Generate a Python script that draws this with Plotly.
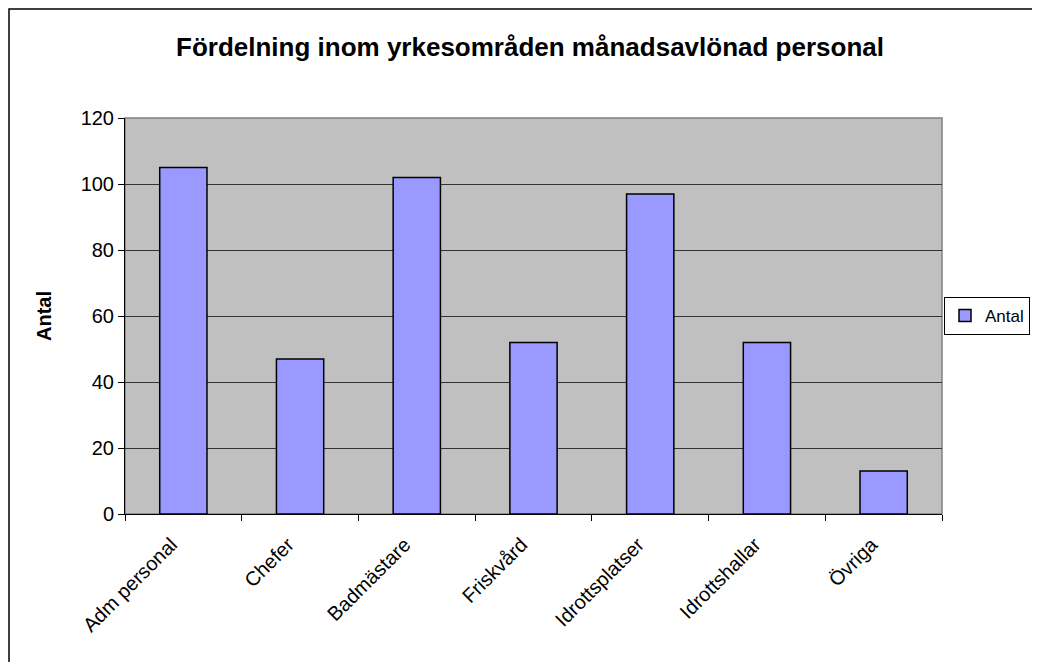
import plotly.graph_objects as go

categories = ["Adm personal", "Chefer", "Badmästare", "Friskvård",
              "Idrottsplatser", "Idrottshallar", "Övriga"]
antal = [105, 47, 102, 52, 97, 52, 13]
y_ticks = [0, 20, 40, 60, 80, 100, 120]

FONT = "Liberation Sans, Arial, sans-serif"

# the page body has an 8px margin, so the figure starts at (8, 8)
W, H = 1040, 654
L, T, R, B = 117, 110, 106, 148
pw, ph = W - L - R, H - T - B

fig = go.Figure()
fig.add_trace(go.Bar(x=categories, y=antal, name="Antal",
                     marker=dict(color="#9999FF", line=dict(color="black", width=1.5))))

fig.update_layout(
    width=W, height=H,
    margin=dict(l=L, r=R, t=T, b=B, autoexpand=False),
    paper_bgcolor="white",
    plot_bgcolor="#C0C0C0",
    font=dict(family=FONT, size=20, color="black"),
    bargap=0.595,
    showlegend=True,
    title=dict(text="<b>Fördelning inom yrkesområden månadsavlönad personal</b>",
               x=522 / W, xanchor="center", y=1 - 39 / H, yanchor="middle",
               font=dict(size=26, family=FONT)),
    legend=dict(x=(944 - 8 - L) / pw, xanchor="left", y=0.5, yanchor="middle",
                bordercolor="black", borderwidth=1, bgcolor="white",
                font=dict(size=17), itemwidth=30, tracegroupgap=0),
    xaxis=dict(showgrid=False, showline=True, linecolor="black", linewidth=1,
               ticks="outside", tickson="boundaries", ticklen=6, tickcolor="black",
               tickangle=-45, tickfont=dict(size=20),
               ticklabelstandoff=10, ticklabelshift=-12),
    yaxis=dict(range=[0, 120], tickvals=y_ticks, showgrid=True, gridcolor="#333333",
               gridwidth=1, showline=True, linecolor="black", linewidth=1,
               ticks="outside", ticklen=6, tickcolor="black", zeroline=False,
               tickfont=dict(size=20)),
)

# plot area border
fig.add_shape(type="rect", xref="paper", yref="paper", x0=0, y0=0, x1=1, y1=1,
              line=dict(color="#808080", width=1.5), layer="below")
# outer chart border (extends past the right and bottom edges)
fig.add_shape(type="rect", xref="paper", yref="paper",
              x0=(1 - L) / pw, x1=1.3, y0=-(B + 40) / ph, y1=(ph + T - 1) / ph,
              line=dict(color="black", width=1.5))

fig.add_annotation(text="<b>Antal</b>", xref="paper", yref="paper",
                   x=(44 - 8 - L) / pw, y=0.5, xanchor="center", yanchor="middle",
                   textangle=-90, showarrow=False,
                   font=dict(size=20, family=FONT))

fig.write_html("out.html")
